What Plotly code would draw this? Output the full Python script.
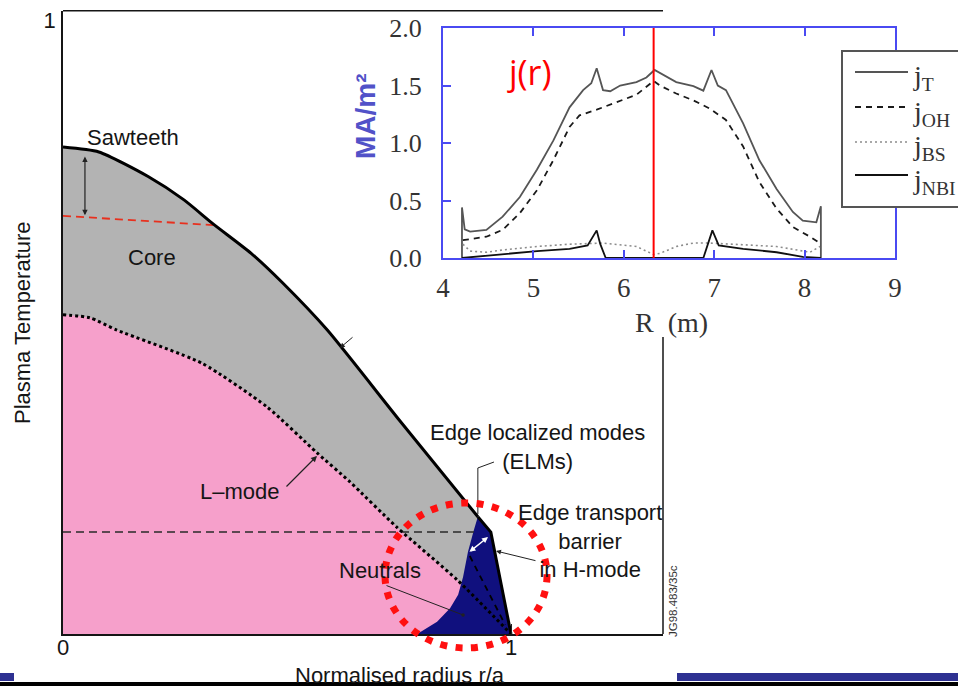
import plotly.graph_objects as go

W, H = 958, 686

# ---------------- main sketch: temperature vs normalised radius ----------------
# H-mode profile (core part, smooth) and pedestal (edge transport barrier)
r_hmode = [0.0, 0.08, 0.19, 0.27, 0.335, 0.42, 0.49, 0.59, 0.75, 0.926]
t_hmode = [0.793, 0.785, 0.745, 0.707, 0.668, 0.62, 0.572, 0.495, 0.349, 0.191]
r_pedestal = [0.926, 0.955, 1.0]
t_pedestal = [0.191, 0.166, 0.0]

# L-mode profile
r_lmode = [0.0, 0.06, 0.12, 0.31, 0.455, 0.567, 0.64, 0.745, 0.88, 1.0]
t_lmode = [0.52, 0.515, 0.495, 0.441, 0.37, 0.295, 0.248, 0.174, 0.088, 0.0]

# inner boundary of the edge-barrier region (neutrals side)
r_etb_inner = [0.926, 0.917, 0.904, 0.893, 0.882, 0.864, 0.835, 0.797, 0.781]
t_etb_inner = [0.191, 0.169, 0.134, 0.093, 0.064, 0.042, 0.020, 0.003, 0.0]

# post-sawtooth-crash level and ELM level
r_sawtooth_crash = [0.0, 0.335]
t_sawtooth_crash = [0.681, 0.666]
r_elm_level = [0.0, 0.92]
t_elm_level = [0.166, 0.166]
r_elm_drop = [0.908, 0.987]
t_elm_drop = [0.127, 0.015]

# ---------------- inset: current density profiles ----------------
R_T = [4.21, 4.21, 4.24, 4.30, 4.48, 4.66, 4.85, 5.04, 5.22, 5.40, 5.55, 5.64, 5.70,
       5.77, 5.85, 5.96, 6.14, 6.25, 6.34, 6.47, 6.58, 6.77, 6.88, 6.97, 7.04, 7.13,
       7.32, 7.50, 7.69, 7.87, 7.98, 8.13, 8.18, 8.18]
J_T = [0.0, 0.44, 0.25, 0.23, 0.245, 0.36, 0.53, 0.77, 1.02, 1.31, 1.46, 1.52, 1.65,
       1.46, 1.45, 1.50, 1.53, 1.57, 1.635, 1.58, 1.53, 1.495, 1.455, 1.635, 1.50, 1.46,
       1.17, 0.85, 0.60, 0.40, 0.325, 0.31, 0.45, 0.0]

R_OH = [4.22, 4.48, 4.66, 4.85, 5.04, 5.22, 5.40, 5.51, 5.70, 5.96, 6.14, 6.33, 6.40,
        6.58, 6.77, 6.95, 7.13, 7.32, 7.50, 7.69, 7.87, 8.06, 8.17]
J_OH = [0.155, 0.185, 0.245, 0.39, 0.59, 0.85, 1.14, 1.24, 1.29, 1.37, 1.42, 1.54, 1.50,
        1.43, 1.37, 1.30, 1.20, 0.97, 0.66, 0.43, 0.27, 0.185, 0.13]

R_BS = [4.22, 4.30, 4.48, 4.66, 5.04, 5.40, 5.77, 6.14, 6.33, 6.40, 6.58, 6.77, 6.95,
        7.32, 7.69, 8.06, 8.17]
J_BS = [0.12, 0.06, 0.05, 0.07, 0.10, 0.12, 0.13, 0.10, 0.03, 0.04, 0.10, 0.13, 0.13,
        0.115, 0.10, 0.05, 0.10]

R_NBI = [4.21, 4.48, 5.04, 5.40, 5.60, 5.70, 5.74, 5.80, 6.88, 6.98, 7.05, 7.32, 7.69,
         7.98, 8.18]
J_NBI = [0.0, 0.02, 0.06, 0.08, 0.11, 0.24, 0.12, 0.0, 0.0, 0.24, 0.11, 0.08, 0.05,
         0.01, 0.0]

R_AXIS = [6.33, 6.33]
J_AXIS = [0.0, 2.0]

R_TICKS = [4, 5, 6, 7, 8, 9]

# legend entries for the inset: label, colour, width, dash
LEGEND_LABELS = ["j<sub>T</sub>", "j<sub>OH</sub>", "j<sub>BS</sub>", "j<sub>NBI</sub>"]

# ---------------- colours / fonts ----------------
GRAY = "#b3b3b3"
PINK = "#f6a0cb"
NAVY = "#10107e"
INK = "#151515"
FRAME_BLUE = "#4a4af2"
SANS = "Liberation Sans, Arial, sans-serif"
SERIF = "Liberation Serif, Times New Roman, serif"

X_MAX = 600 / 448.0
Y_MAX = 623.3 / 614.0

STYLE_T = dict(color="#555555", width=1.8)
STYLE_OH = dict(color="#1a1a1a", width=1.8, dash="6px,5px")
STYLE_BS = dict(color="#8c8c8c", width=1.6, dash="2px,3px")
STYLE_NBI = dict(color="#111111", width=1.8)


def px(x, y):
    """pixel position on the page -> paper fraction"""
    return x / W, 1 - y / H


fig = go.Figure()

common = dict(hoverinfo="skip", showlegend=False, xaxis="x", yaxis="y")

fig.add_trace(go.Scatter(x=r_hmode, y=t_hmode, mode="lines", fill="tozeroy",
                         fillcolor=GRAY, line=dict(width=0, shape="spline", smoothing=0.6),
                         **common))
fig.add_trace(go.Scatter(x=r_lmode, y=t_lmode, mode="lines", fill="tozeroy",
                         fillcolor=PINK, line=dict(width=0, shape="spline", smoothing=0.6),
                         **common))
fig.add_trace(go.Scatter(x=r_pedestal + r_etb_inner[::-1],
                         y=t_pedestal + t_etb_inner[::-1],
                         mode="lines", fill="toself", fillcolor=NAVY,
                         line=dict(width=0), **common))
fig.add_trace(go.Scatter(x=r_sawtooth_crash, y=t_sawtooth_crash, mode="lines",
                         line=dict(color="#e8301e", width=1.8, dash="8px,5px"), **common))
fig.add_trace(go.Scatter(x=r_elm_level, y=t_elm_level, mode="lines",
                         line=dict(color="#2a2a2a", width=1.5, dash="8px,5px"), **common))
fig.add_trace(go.Scatter(x=r_elm_drop, y=t_elm_drop, mode="lines",
                         line=dict(color="#000000", width=1.8, dash="6px,5px"), **common))
fig.add_trace(go.Scatter(x=r_lmode, y=t_lmode, mode="lines",
                         line=dict(color="#000000", width=3, dash="dot",
                                   shape="spline", smoothing=0.6), **common))
fig.add_trace(go.Scatter(x=r_hmode, y=t_hmode, mode="lines",
                         line=dict(color="#000000", width=3, shape="spline", smoothing=0.6),
                         **common))
fig.add_trace(go.Scatter(x=r_pedestal, y=t_pedestal, mode="lines",
                         line=dict(color="#000000", width=3), **common))

# inset curves
inset = dict(xaxis="x2", yaxis="y2", mode="lines", hoverinfo="skip", showlegend=False)
fig.add_trace(go.Scatter(x=R_T, y=J_T, name="j_T", line=STYLE_T, **inset))
fig.add_trace(go.Scatter(x=R_OH, y=J_OH, name="j_OH", line=STYLE_OH, **inset))
fig.add_trace(go.Scatter(x=R_BS, y=J_BS, name="j_BS", line=STYLE_BS, **inset))
fig.add_trace(go.Scatter(x=R_NBI, y=J_NBI, name="j_NBI", line=STYLE_NBI, **inset))
fig.add_trace(go.Scatter(x=R_AXIS, y=J_AXIS, line=dict(color="#ff0000", width=2), **inset))

# ---------------- annotations ----------------
ann = []


def label(text, x, y, size=22, **kw):
    d = dict(text=text, x=x, y=y, xref="x", yref="y", showarrow=False,
             xanchor="center", yanchor="middle",
             font=dict(family=SANS, size=size, color=INK))
    d.update(kw)
    ann.append(d)


def page_text(text, x, y, font, **kw):
    xp, yp = px(x, y)
    d = dict(text=text, x=xp, y=yp, xref="paper", yref="paper", showarrow=False,
             xanchor="center", yanchor="middle", font=font)
    d.update(kw)
    ann.append(d)


def arrow(x, y, ax, ay, **kw):
    d = dict(text="", x=x, y=y, ax=ax, ay=ay, xref="x", yref="y", axref="x", ayref="y",
             showarrow=True, arrowhead=2, arrowsize=1, arrowwidth=1.2, arrowcolor="#222222")
    d.update(kw)
    ann.append(d)


label("Sawteeth", 0.049, 0.8094, xanchor="left")
label("Core", 0.1987, 0.614)
label("L\u2013mode", 0.395, 0.2313)
label("Edge localized modes<br>(ELMs)", 1.059, 0.305)
label("Edge transport<br>barrier<br>in H-mode", 1.176, 0.1515)
label("Neutrals", 0.7076, 0.1042)

arrow(0.049, 0.682, 0.049, 0.780, arrowside="end+start", arrowsize=0.9)
arrow(0.567, 0.290, 0.4955, 0.2378)
arrow(0.618, 0.4658, 0.6496, 0.4853, arrowwidth=1.0)
arrow(0.9665, 0.1352, 1.058, 0.1189, arrowwidth=1.0)
arrow(0.9487, 0.158, 0.904, 0.1319, arrowside="end+start", arrowcolor="#ffffff",
      arrowwidth=1.5, arrowsize=0.8)
arrow(0.8929, 0.031, 0.7188, 0.0798, arrowhead=6, arrowsize=0.9, arrowwidth=1.0)

page_text("Plasma Temperature", 22, 323, dict(family=SANS, size=22, color=INK),
          textangle=-90)
page_text("Normalised radius r/a", 400, 675, dict(family=SANS, size=22, color=INK))
page_text("JG98.483/35c", 673, 601, dict(family=SANS, size=11.5, color="#333333"),
          textangle=-90)
page_text("<b>MA/m\u00b2</b>", 366, 116, dict(family=SANS, size=28, color="#5252c8"),
          textangle=-90)
page_text("R\u00a0\u00a0(m)", 671, 322, dict(family=SERIF, size=28, color="#333333"))
ann.append(dict(text="j(r)", x=4.96, y=1.62, xref="x2", yref="y2", showarrow=False,
                xanchor="center", yanchor="middle",
                font=dict(family="Open Sans, sans-serif", size=34, color="#ff0000")))

# ---------------- shapes ----------------
shapes = [
    # frame: top edge and the visible part of the right edge
    dict(type="line", xref="x domain", yref="y domain", x0=0, x1=1, y0=1, y1=1,
         line=dict(color=INK, width=1.5)),
    dict(type="line", xref="x domain", yref="y domain", x0=1, x1=1, y0=0,
         y1=(634 - 337) / 623.3, line=dict(color=INK, width=1.5)),
    # ELM leader line
    dict(type="path", xref="x", yref="y",
         path="M 0.926,0.1954 L 0.926,0.2704 L 0.962,0.2801",
         line=dict(color="#222222", width=1.0)),
    # highlighted edge region
    dict(type="circle", xref="x domain", yref="y domain",
         x0=0.7188 / X_MAX, x1=1.0804 / X_MAX, y0=-0.0228 / Y_MAX, y1=0.2134 / Y_MAX,
         line=dict(color="#ff1010", width=7, dash="7px,8.5px"), layer="above"),
]

# inset legend box (runs off the right edge of the page)
lx0, ly0 = px(842, 51)
lx1, ly1 = px(975, 207)
shapes.append(dict(type="rect", xref="paper", yref="paper", x0=lx0, x1=lx1, y0=ly1, y1=ly0,
                   fillcolor="white", line=dict(color="#555555", width=2), layer="above"))
for lab, style, yrow in zip(LEGEND_LABELS, [STYLE_T, STYLE_OH, STYLE_BS, STYLE_NBI],
                            [72, 107, 142, 175]):
    xa, ya = px(855, yrow)
    xb, _ = px(908, yrow)
    shapes.append(dict(type="line", xref="paper", yref="paper", x0=xa, x1=xb, y0=ya, y1=ya,
                       line=style, layer="above"))
    page_text(lab, 911, yrow + 6, dict(family=SERIF, size=28, color="#333333"),
              xanchor="left")

# slide footer
shapes += [
    dict(type="rect", xref="paper", yref="paper", x0=0, x1=1, y0=0, y1=1 - 682 / H,
         fillcolor="#000000", line=dict(width=0), layer="above"),
    dict(type="rect", xref="paper", yref="paper", x0=0, x1=14 / W,
         y0=1 - 681 / H, y1=1 - 673 / H, fillcolor="#2e3192", line=dict(width=0), layer="above"),
    dict(type="rect", xref="paper", yref="paper", x0=677 / W, x1=1,
         y0=1 - 681 / H, y1=1 - 673 / H, fillcolor="#2e3192", line=dict(width=0), layer="above"),
]

fig.update_layout(
    template="none",
    width=W, height=H, autosize=False,
    margin=dict(l=0, r=0, t=0, b=0, pad=0),
    paper_bgcolor="white", plot_bgcolor="white",
    showlegend=False,
    xaxis=dict(domain=[63 / W, 663 / W], range=[0, X_MAX], tickvals=[0, 1],
               ticktext=["0", "1"], ticks="inside", ticklen=10, tickwidth=1,
               tickcolor="#222", showline=True, linecolor=INK, linewidth=1.5,
               showgrid=False, zeroline=False, anchor="y", automargin=False,
               ticklabelstandoff=-7,
               tickfont=dict(family=SANS, size=22, color=INK)),
    yaxis=dict(domain=[1 - 634 / H, 1 - 10.7 / H], range=[0, Y_MAX], tickvals=[1],
               ticktext=["1"], ticks="", showline=True, linecolor=INK, linewidth=1.5,
               showgrid=False, zeroline=False, anchor="x", ticklabelstandoff=1,
               automargin=False,
               tickfont=dict(family=SANS, size=22, color=INK)),
    xaxis2=dict(domain=[443 / W, 895 / W], range=[4, 9], tickvals=R_TICKS,
                ticks="inside", ticklen=8, tickwidth=2, tickcolor=FRAME_BLUE,
                showline=True, linecolor=FRAME_BLUE, linewidth=2, mirror="ticks",
                showgrid=False, zeroline=False, anchor="y2", ticklabelstandoff=5,
                automargin=False,
                tickfont=dict(family=SERIF, size=27, color="#333333")),
    yaxis2=dict(domain=[1 - 258 / H, 1 - 28 / H], range=[0, 2], dtick=0.5,
                tickformat=".1f", ticks="inside", ticklen=8, tickwidth=2,
                tickcolor=FRAME_BLUE, showline=True, linecolor=FRAME_BLUE, linewidth=2,
                mirror="ticks", showgrid=False, zeroline=False, anchor="x2",
                ticklabelstandoff=14, automargin=False,
                tickfont=dict(family=SERIF, size=26, color="#333333")),
    annotations=ann,
    shapes=shapes,
)

fig.write_html("out.html")
